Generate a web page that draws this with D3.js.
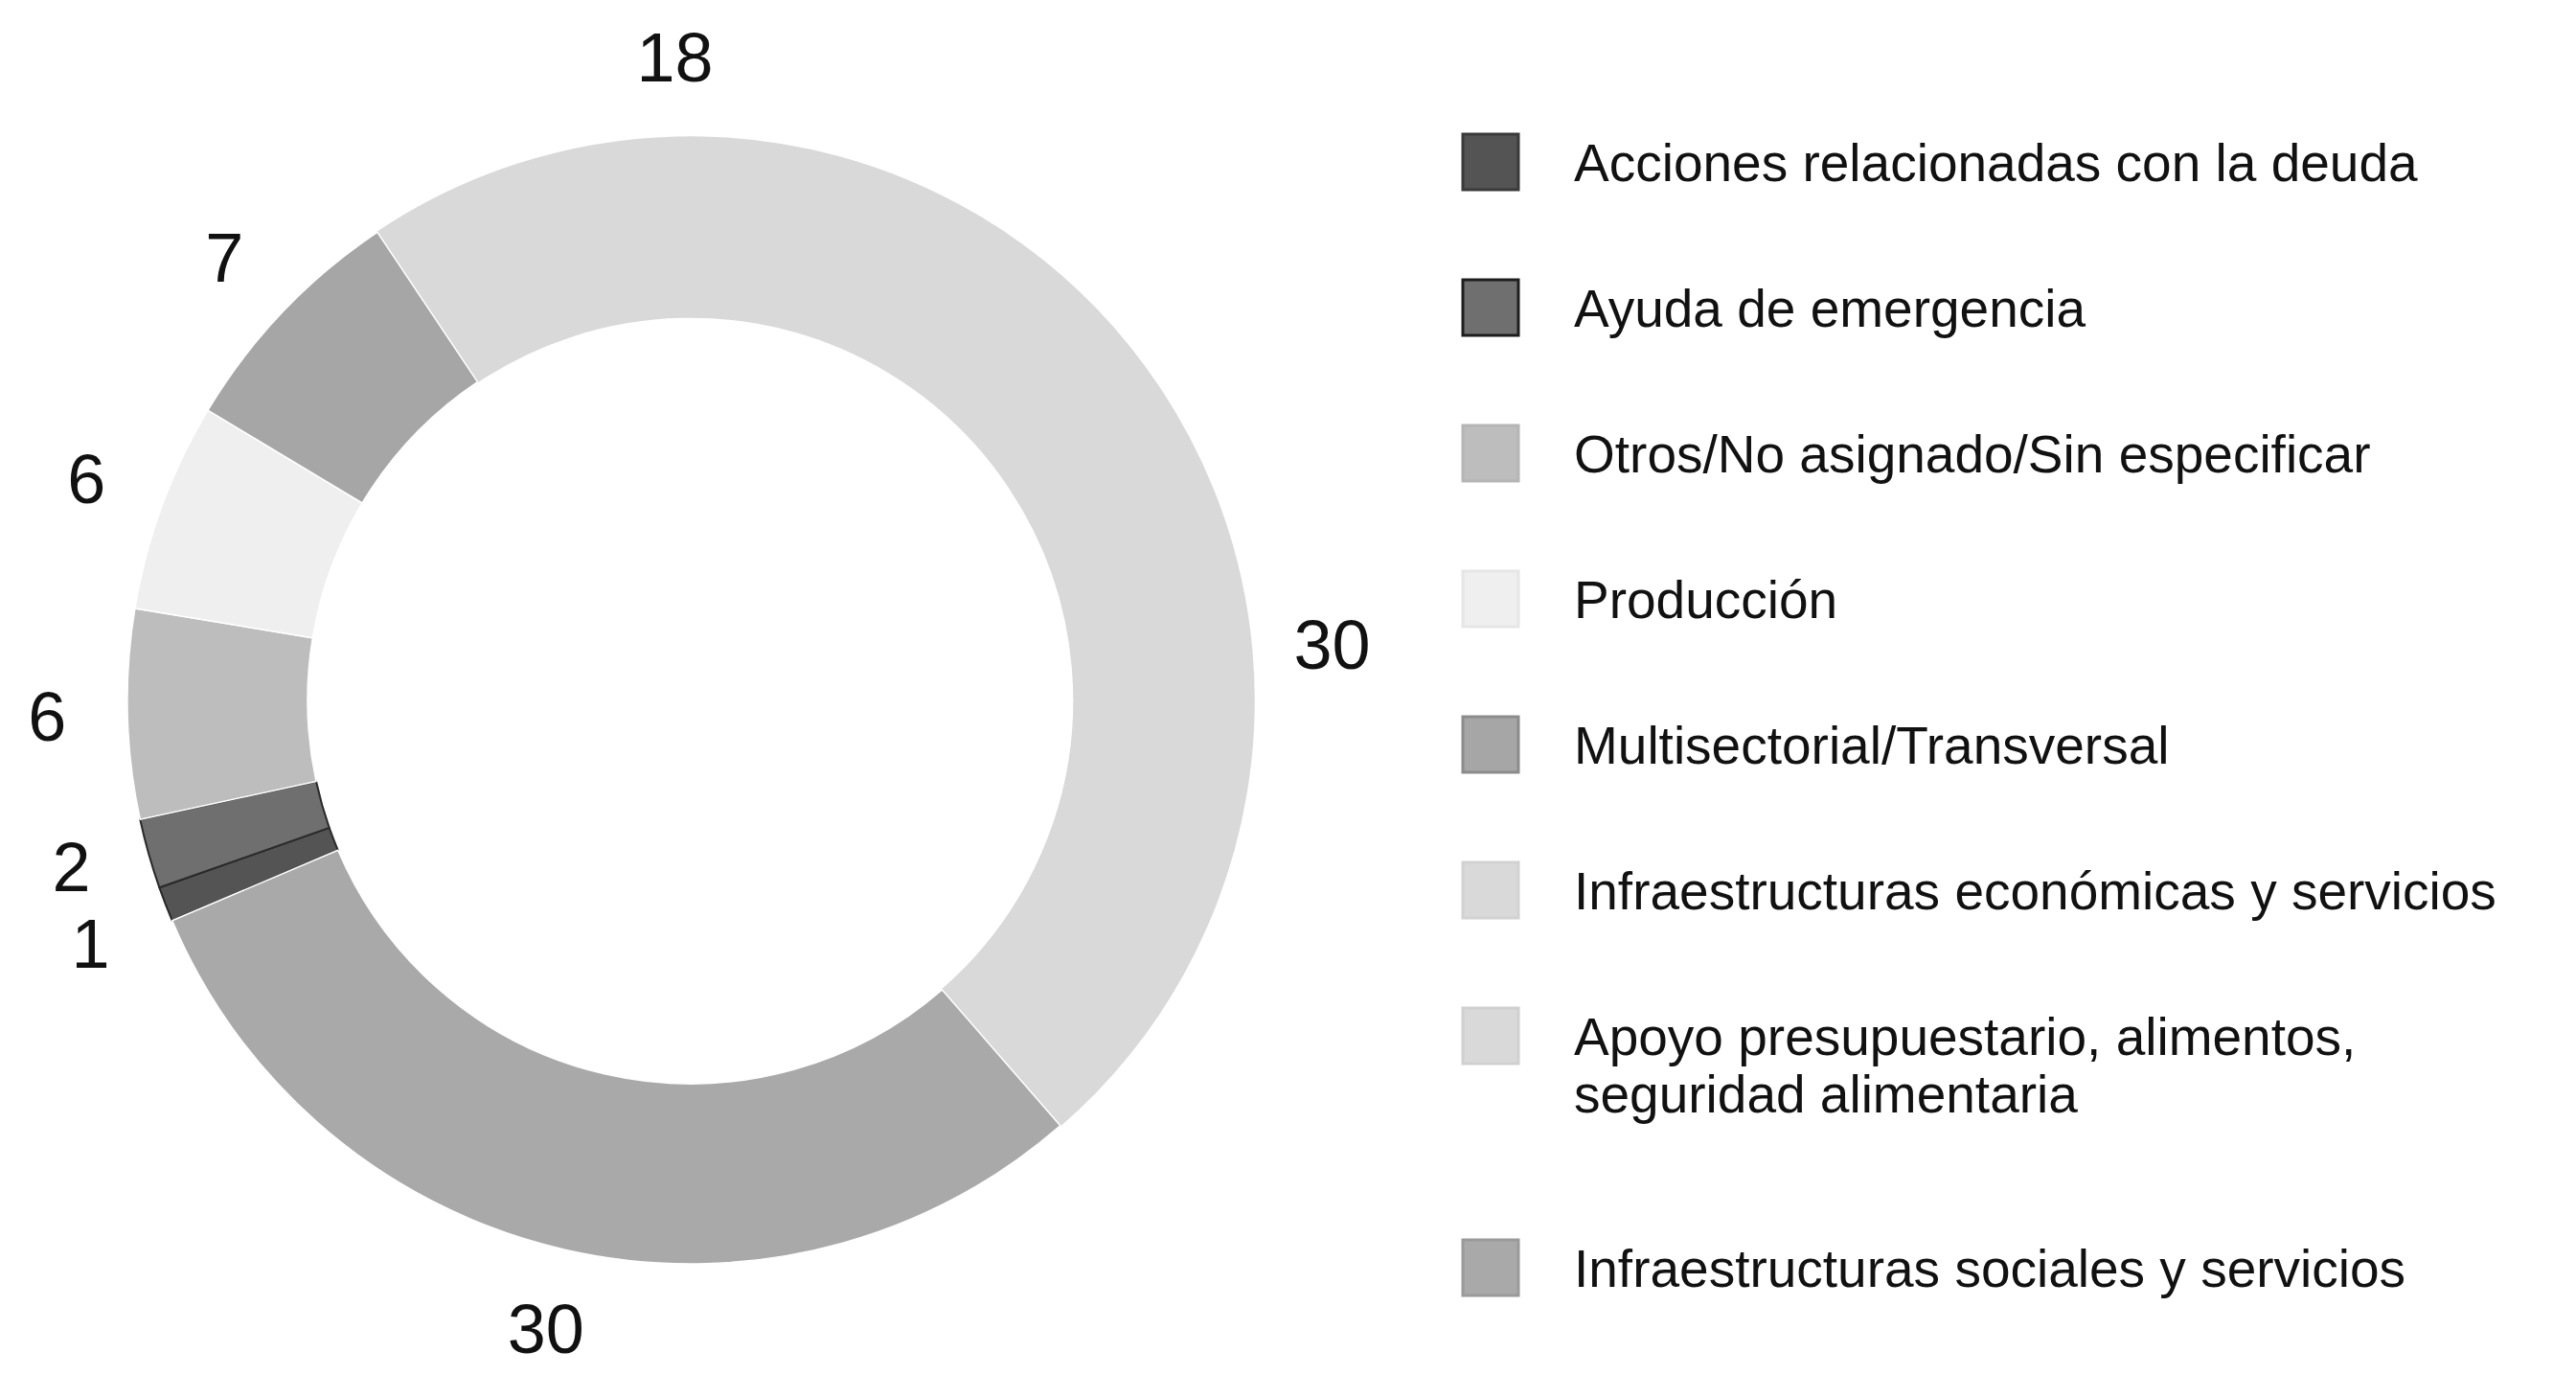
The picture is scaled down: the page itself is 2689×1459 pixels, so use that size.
<!DOCTYPE html>
<html>
<head>
<meta charset="utf-8">
<script src="https://cdn.jsdelivr.net/npm/d3@7"></script>
<style>
  html, body { margin: 0; padding: 0; background: #ffffff; }
  svg { display: block; }
</style>
</head>
<body>
<svg id="chart" width="2689" height="1459"></svg>
<script>
// ---- data (legend order = clockwise order in the ring) ----
const categories = [
  "Acciones relacionadas con la deuda",
  "Ayuda de emergencia",
  "Otros/No asignado/Sin especificar",
  "Producción",
  "Multisectorial/Transversal",
  "Infraestructuras económicas y servicios",
  "Apoyo presupuestario, alimentos, seguridad alimentaria",
  "Infraestructuras sociales y servicios"
];
const legendLines = [
  ["Acciones relacionadas con la deuda"],
  ["Ayuda de emergencia"],
  ["Otros/No asignado/Sin especificar"],
  ["Producción"],
  ["Multisectorial/Transversal"],
  ["Infraestructuras económicas y servicios"],
  ["Apoyo presupuestario, alimentos,", "seguridad alimentaria"],
  ["Infraestructuras sociales y servicios"]
];
const values = [1, 2, 6, 6, 7, 18, 30, 30];
const fills = ["#545454", "#6f6f6f", "#bdbdbd", "#efefef", "#a6a6a6", "#d9d9d9", "#d9d9d9", "#a9a9a9"];
const swatchStrokes = ["#3a3a3a", "#1e1e1e", "#b5b5b5", "#e6e6e6", "#8c8c8c", "#d2d2d2", "#d0d0d0", "#9a9a9a"];
const sliceStrokes = ["#2a2a2a", "#2a2a2a", "#ffffff", "#ffffff", "#ffffff", "#d9d9d9", "#d9d9d9", "#ffffff"];

// ---- layout ----
const svg = d3.select("#chart");
const cx = 721, cy = 731;
const outerR = 588, innerR = 400, labelR = 672;
const fontFamily = "'Liberation Sans', Arial, Helvetica, sans-serif";
const labelSize = 72, minGap = 80;

const data = categories.map((c, i) => ({
  name: c, value: values[i], fill: fills[i], stroke: swatchStrokes[i],
  sliceStroke: sliceStrokes[i], lines: legendLines[i]
}));

const start = 247 * Math.PI / 180;
const pie = d3.pie().sort(null).value(d => d.value).startAngle(start).endAngle(start + 2 * Math.PI);
const arcs = pie(data);
const arc = d3.arc().innerRadius(innerR).outerRadius(outerR);
const labelArc = d3.arc().innerRadius(labelR).outerRadius(labelR);

const g = svg.append("g").attr("transform", `translate(${cx},${cy})`);

// draw the two blended light slices first so the white/dark separators of the others stay on top
const drawOrder = arcs.slice().sort((a, b) => (a.data.sliceStroke === a.data.fill ? 0 : 1) - (b.data.sliceStroke === b.data.fill ? 0 : 1));

g.selectAll("path.slice")
  .data(drawOrder)
  .join("path")
  .attr("class", "slice")
  .attr("d", arc)
  .attr("fill", d => d.data.fill)
  .attr("stroke", d => d.data.sliceStroke)
  .attr("stroke-width", d => (d.data.sliceStroke === "#2a2a2a" ? 2 : 1.5))
  .attr("stroke-linejoin", "round");

// label positions from centroids, then push apart labels that are too close vertically on the same side
const labels = arcs.map(d => {
  const [x, y] = labelArc.centroid(d);
  return { d, x, y };
});
["left", "right"].forEach(side => {
  const grp = labels.filter(l => (side === "left" ? l.x < 0 : l.x >= 0)).sort((a, b) => a.y - b.y);
  for (let iter = 0; iter < 20; iter++) {
    for (let k = 1; k < grp.length; k++) {
      const a = grp[k - 1], b = grp[k];
      const dy = b.y - a.y;
      if (dy < minGap && Math.abs(a.x - b.x) < 90) {
        const push = (minGap - dy) / 2;
        a.y -= push; b.y += push;
      }
    }
  }
});

g.selectAll("text.val")
  .data(labels)
  .join("text")
  .attr("class", "val")
  .attr("x", l => l.x)
  .attr("y", l => l.y)
  .attr("text-anchor", "middle")
  .attr("dy", "0.36em")
  .attr("font-family", fontFamily)
  .attr("font-size", labelSize)
  .attr("fill", "#111")
  .text(l => l.d.data.value);

// ---- legend ----
const legX = 1527, textX = 1643, sw = 58;
const rowStep = 152, extraLine = 90, firstY = 169;
let y = firstY;
const rows = data.map(d => {
  const r = { d, y };
  y += rowStep + (d.lines.length - 1) * extraLine;
  return r;
});

const leg = svg.append("g");
const item = leg.selectAll("g.item").data(rows).join("g").attr("class", "item");
item.append("rect")
  .attr("x", legX)
  .attr("y", r => r.y - sw / 2)
  .attr("width", sw)
  .attr("height", sw)
  .attr("fill", r => r.d.fill)
  .attr("stroke", r => r.d.stroke)
  .attr("stroke-width", 3);
item.each(function (r) {
  const t = d3.select(this).append("text")
    .attr("x", textX)
    .attr("y", r.y)
    .attr("font-family", fontFamily)
    .attr("font-size", 55)
    .attr("fill", "#111");
  r.d.lines.forEach((ln, k) => {
    t.append("tspan").attr("x", textX).attr("dy", k === 0 ? "0.36em" : 60).text(ln);
  });
});
</script>
</body>
</html>
